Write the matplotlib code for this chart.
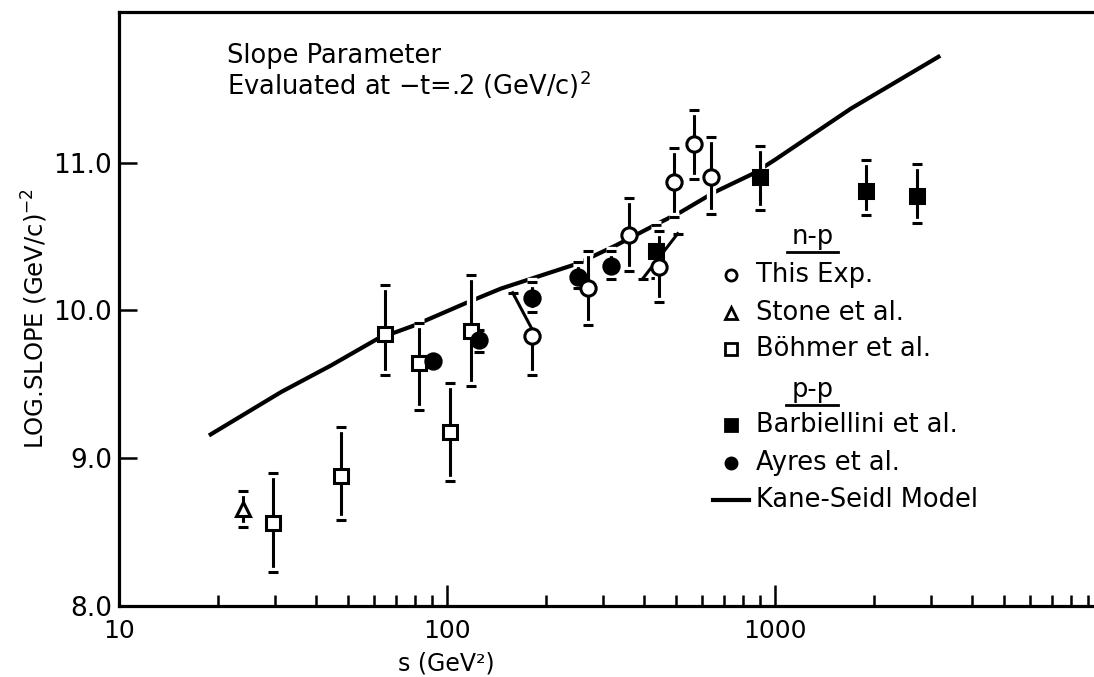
import numpy as np
import matplotlib
matplotlib.use("Agg")
import matplotlib.pyplot as plt
import matplotlib.patheffects as pe
from matplotlib.lines import Line2D
from matplotlib.ticker import FixedLocator, LogLocator, NullFormatter, FuncFormatter

# ---------------- data ----------------
# This Exp. (n-p), open circles
exp_s = [181, 270, 360, 444, 493, 567, 638]
exp_b = [9.83, 10.15, 10.51, 10.295, 10.87, 11.13, 10.90]
exp_lo = [0.27, 0.25, 0.245, 0.24, 0.24, 0.24, 0.25]
exp_hi = [0.0, 0.25, 0.25, 0.24, 0.23, 0.23, 0.275]

# Stone et al. (n-p), open triangle
stone_s = [23.9]
stone_b = [8.657]
stone_lo = [0.12]
stone_hi = [0.12]

# Boehmer et al. (n-p), open squares
boh_s = [29.5, 47.5, 64.7, 82, 102, 118]
boh_b = [8.56, 8.88, 9.84, 9.646, 9.18, 9.86]
boh_lo = [0.33, 0.30, 0.28, 0.32, 0.335, 0.37]
boh_hi = [0.34, 0.33, 0.33, 0.27, 0.33, 0.38]

# Barbiellini et al. (p-p), filled squares
bar_s = [434, 902, 1893, 2710]
bar_b = [10.40, 10.90, 10.81, 10.776]
bar_lo = [0.18, 0.22, 0.165, 0.186]
bar_hi = [0.177, 0.21, 0.21, 0.214]

# Ayres et al. (p-p), filled circles
ayr_s = [90.4, 125, 181, 250, 316]
ayr_b = [9.655, 9.80, 10.085, 10.227, 10.30]
ayr_lo = [0.03, 0.08, 0.095, 0.077, 0.085]
ayr_hi = [0.03, 0.07, 0.105, 0.10, 0.10]

# Slanted segments drawn at two of the n-p points
slant_s = [[158.6, 181], [395, 505]]
slant_b = [[10.12, 9.88], [10.215, 10.52]]
slant_caps_s = [158.6, 395, 505]
slant_caps_b = [10.12, 10.215, 10.52]

# Kane-Seidl model curve
ks_s = [18.8, 31.2, 44.3, 61.5, 79.5, 113, 146, 250, 327, 439, 517, 653, 865, 1000, 1706, 3190]
ks_b = [9.154, 9.448, 9.628, 9.809, 9.899, 10.046, 10.148, 10.317, 10.44, 10.588,
        10.667, 10.80, 10.93, 11.02, 11.367, 11.724]

x_ticks = [10, 100, 1000]
y_ticks = [8.0, 9.0, 10.0, 11.0]

# ---------------- figure ----------------
W, H = 1094, 677
fig = plt.figure(figsize=(W / 100, H / 100), dpi=100)
plt.rcParams['font.family'] = ['DejaVu Sans']
plt.rcParams['mathtext.fontset'] = 'dejavusans'


def fx(px):
    return px / W


def fy(py):
    return 1 - py / H


ax_left, ax_right, ax_top, ax_bot = 119, 1103, 12, 606
ax = fig.add_axes([fx(ax_left), fy(ax_bot), (ax_right - ax_left) / W, (ax_bot - ax_top) / H])
ax.set_xscale('log')
ax.set_xlim(10, 10000)
ax.set_ylim(8.0, 12.02)

for sp in ['left', 'bottom', 'top']:
    ax.spines[sp].set_linewidth(2.3)
ax.spines['right'].set_visible(False)

ax.xaxis.set_major_locator(FixedLocator(x_ticks))
ax.xaxis.set_minor_locator(LogLocator(base=10, subs=np.arange(2, 10)))
ax.xaxis.set_minor_formatter(NullFormatter())
ax.xaxis.set_major_formatter(FuncFormatter(lambda v, p: f"{v:g}"))
ax.yaxis.set_major_locator(FixedLocator(y_ticks))
ax.yaxis.set_major_formatter(FuncFormatter(lambda v, p: f"{v:.1f}"))
ax.tick_params(axis='x', which='major', direction='in', length=15, width=1.8, pad=9, labelsize=18)
ax.tick_params(axis='x', which='minor', direction='in', length=8, width=1.8)
ax.tick_params(axis='y', which='major', direction='in', length=13, width=1.8, pad=5, labelsize=19)
ax.tick_params(top=False, right=False, which='both')

# model curve
ax.plot(ks_s, ks_b, color='black', lw=3.0, solid_capstyle='butt', zorder=1)

elw = 2.2
halo = [pe.Stroke(linewidth=elw + 4.5, foreground='white'), pe.Normal()]


def errpts(xs, ys, lo, hi, marker, ms, filled):
    cont = ax.errorbar(xs, ys, yerr=[lo, hi], fmt='none', ecolor='black',
                       elinewidth=elw, capsize=3.6, capthick=elw, zorder=2)
    for c in cont[1]:
        c.set_path_effects(halo)
    for c in cont[2]:
        c.set_path_effects(halo)
    ax.plot(xs, ys, linestyle='none', marker=marker, ms=ms,
            mfc='black' if filled else 'white', mec='black', mew=2.2, zorder=3)


# slanted segments
for sx, sb in zip(slant_s, slant_b):
    ax.plot(sx, sb, color='black', lw=elw, zorder=2, path_effects=halo)
ax.plot(slant_caps_s, slant_caps_b, linestyle='none', marker='_', ms=7.2, mew=elw,
        color='black', zorder=2)

errpts(boh_s, boh_b, boh_lo, boh_hi, 's', 10.5, False)
errpts(stone_s, stone_b, stone_lo, stone_hi, '^', 10, False)
errpts(ayr_s, ayr_b, ayr_lo, ayr_hi, 'o', 11, True)
errpts(bar_s, bar_b, bar_lo, bar_hi, 's', 10.5, True)
errpts(exp_s, exp_b, exp_lo, exp_hi, 'o', 11, False)

# ---------------- texts ----------------
fs = 18.5
fig.text(fx(227), fy(63), "Slope Parameter", fontsize=fs, ha='left', va='baseline')
fig.text(fx(227), fy(95), "Evaluated at \u2212t=.2 (GeV/c)$^2$", fontsize=fs, ha='left', va='baseline')

fig.text(fx(446), fy(676), "s (GeV\u00b2)", fontsize=17, ha='center', va='bottom')
fig.text(fx(35), fy(318), "LOG.SLOPE (GeV/c)$^{-2}$", fontsize=17.5, rotation=90,
         ha='center', va='center')

# ---------------- legend ----------------
lx_marker = 731
lx_text = 756
fig.text(fx(812.5), fy(244), "n-p", fontsize=fs, ha='center', va='baseline')
fig.add_artist(Line2D([fx(787), fx(838)], [fy(252), fy(252)], color='black', lw=2.0))
fig.text(fx(812.5), fy(397), "p-p", fontsize=fs, ha='center', va='baseline')
fig.add_artist(Line2D([fx(786), fx(838)], [fy(405), fy(405)], color='black', lw=2.0))

entries = [
    (275, 'o', False, "This Exp."),
    (312.7, '^', False, "Stone et al."),
    (349.3, 's', False, "Böhmer et al."),
    (425, 's', True, "Barbiellini et al."),
    (463.3, 'o', True, "Ayres et al."),
]
for py, mk, filled, label in entries:
    fig.add_artist(Line2D([fx(lx_marker)], [fy(py)], linestyle='none', marker=mk, ms=8,
                          mfc='black' if filled else 'white', mec='black', mew=2.0))
    fig.text(fx(lx_text), fy(py), label, fontsize=fs, ha='left', va='center')

fig.add_artist(Line2D([fx(713), fx(749)], [fy(500), fy(500)], color='black', lw=3.0))
fig.text(fx(lx_text), fy(500), "Kane-Seidl Model", fontsize=fs, ha='left', va='center')

fig.savefig("out.png", dpi=100)
